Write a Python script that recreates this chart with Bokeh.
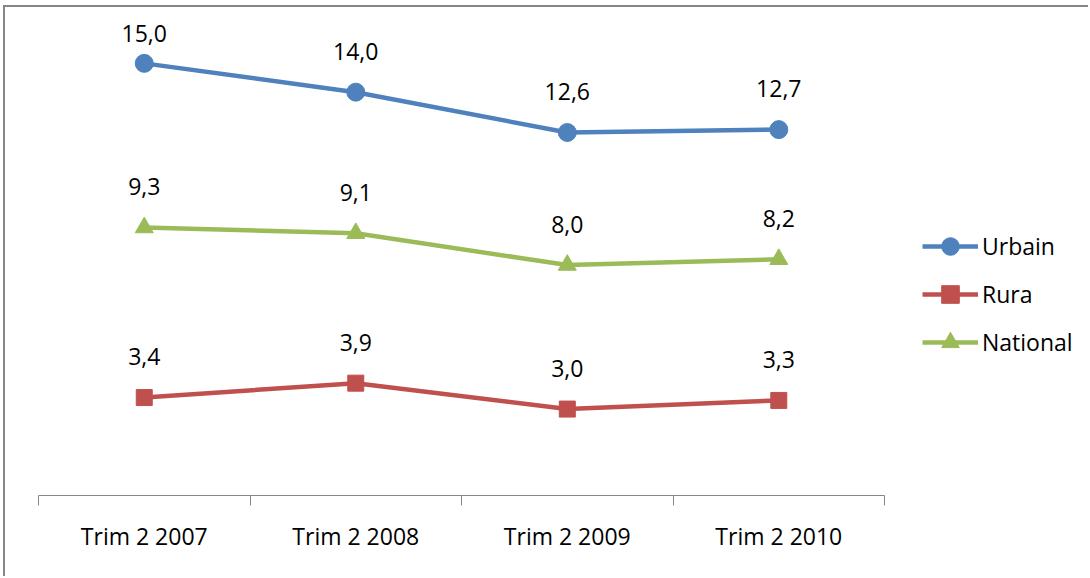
from bokeh.plotting import figure
from bokeh.models import Range1d, FixedTicker, Legend, LegendItem
from bokeh.core.properties import value
from bokeh.embed import file_html
from bokeh.resources import INLINE

categories = ["Trim 2 2007", "Trim 2 2008", "Trim 2 2009", "Trim 2 2010"]
urbain = [15.0, 14.0, 12.6, 12.7]
rural = [3.4, 3.9, 3.0, 3.3]
national = [9.3, 9.1, 8.0, 8.2]

series = [
    ("Urbain", urbain, "#4F81BD", "circle", 18),
    ("Rura", rural, "#C0504D", "square", 16),
    ("National", national, "#9BBB59", "triangle", 18),
]

FONT = "Open Sans"
GRAY = "#868686"
n = len(categories)

# extra room on the right of the frame holds the legend; axis is bounded to the categories
p = figure(width=1085, height=571, output_backend="svg", toolbar_location=None,
           x_range=Range1d(0, n * 1.2375), y_range=Range1d(0, 16.8),
           min_border_left=33, min_border_right=5, min_border_top=4,
           min_border_bottom=83)
p.styles = {"margin-left": "3px", "margin-top": "5px",
            "border-left": "2px solid " + GRAY, "border-top": "2px solid " + GRAY}
p.outline_line_color = None
p.xgrid.visible = False
p.ygrid.visible = False
p.yaxis.visible = False

xs = [i + 0.5 for i in range(n)]
p.xaxis.bounds = (0, n)
p.xaxis.ticker = FixedTicker(ticks=xs, minor_ticks=list(range(n + 1)))
p.xaxis.major_label_overrides = {x: c for x, c in zip(xs, categories)}
p.xaxis.major_tick_line_color = None
p.xaxis.major_tick_out = 0
p.xaxis.major_tick_in = 0
p.xaxis.minor_tick_out = 10
p.xaxis.minor_tick_in = 0
p.xaxis.minor_tick_line_color = GRAY
p.xaxis.axis_line_color = GRAY
p.xaxis.axis_line_width = 1
p.xaxis.major_label_standoff = 14
p.xaxis.major_label_text_font = FONT
p.xaxis.major_label_text_font_size = "23px"
p.xaxis.major_label_text_color = "#000000"

items = []
for name, vals, color, marker, size in series:
    ln = p.line(xs, vals, line_color=color, line_width=4.5)
    mk = p.scatter(xs, vals, marker=marker, size=size, fill_color=color,
                   line_color=color)
    items.append(LegendItem(label=name, renderers=[ln, mk]))

for name, vals, color, marker, size in series:
    labels = [f"{v:.1f}".replace(".", ",") for v in vals]
    offs = [-30 if v >= 15 else -41 for v in vals]
    p.text(xs, vals, text=labels, y_offset=offs, text_font=value(FONT),
           text_font_size="23px", text_align="center", text_baseline="middle",
           text_color="#000000")

legend = Legend(items=items, location=(884, 131), orientation="vertical",
                glyph_width=56, glyph_height=44, label_height=44, spacing=4,
                padding=0, margin=0, label_standoff=4,
                label_text_font=FONT, label_text_font_size="23px",
                label_text_color="#000000", border_line_color=None,
                background_fill_alpha=0)
p.add_layout(legend, "center")

open("out.html", "w").write(file_html(p, INLINE))
